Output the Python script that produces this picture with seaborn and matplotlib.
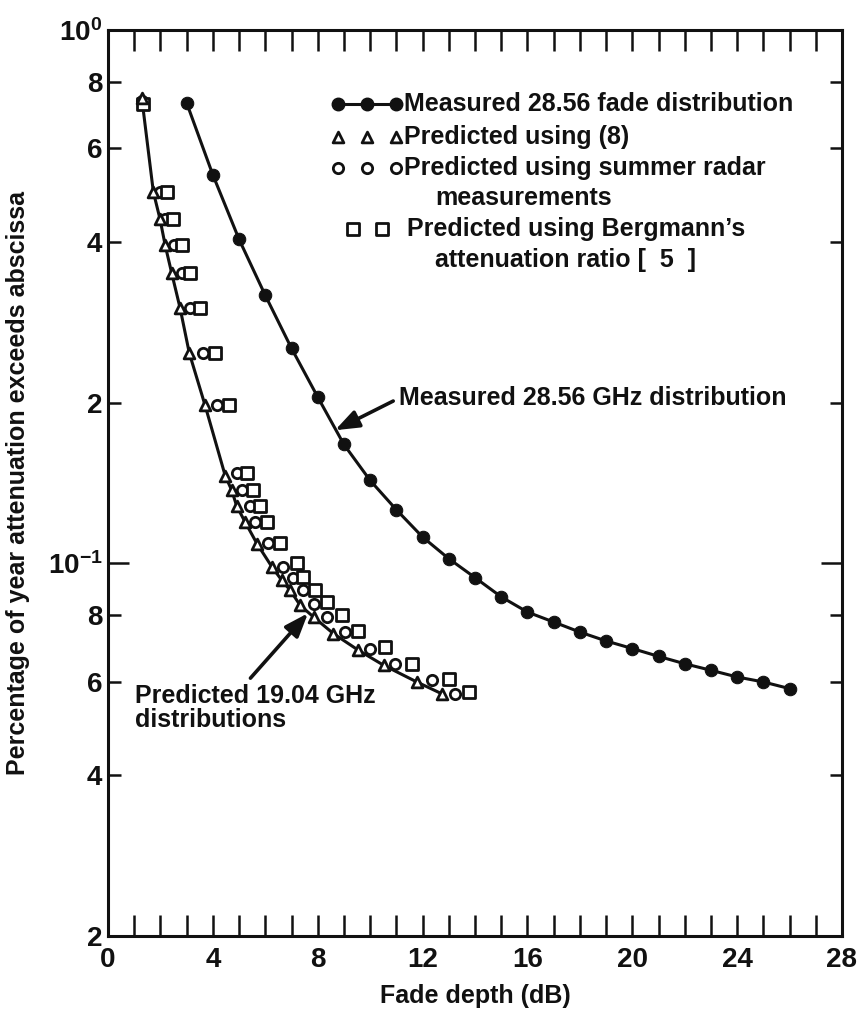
import matplotlib
matplotlib.use("Agg")
import matplotlib.pyplot as plt
import seaborn as sns
import pandas as pd

# Measured 28.56 GHz fade distribution (dB, % of year)
meas_db = [3, 4, 5, 6, 7, 8, 9, 10, 11, 12, 13, 14, 15, 16, 17, 18, 19, 20,
           21, 22, 23, 24, 25, 26]
meas_pct = [0.73, 0.535, 0.405, 0.318, 0.253, 0.205, 0.167, 0.143, 0.126,
            0.112, 0.102, 0.094, 0.0865, 0.081, 0.0776, 0.0743, 0.0715,
            0.0692, 0.0669, 0.0648, 0.063, 0.0612, 0.0599, 0.0582]

# Predicted 19.04 GHz distributions
eq8_db = [1.29, 1.73, 1.98, 2.18, 2.43, 2.75, 3.10, 3.70, 4.47, 4.72, 4.91,
          5.23, 5.68, 6.25, 6.63, 6.95, 7.33, 7.84, 8.60, 9.55, 10.51, 11.78,
          12.74]
eq8_pct = [0.745, 0.497, 0.443, 0.395, 0.350, 0.301, 0.248, 0.198, 0.146,
           0.137, 0.128, 0.1195, 0.1089, 0.0985, 0.0929, 0.089, 0.0834,
           0.0793, 0.0738, 0.0687, 0.0644, 0.0599, 0.0569]

radar_db = [1.30, 1.98, 2.18, 2.52, 2.82, 3.13, 3.63, 4.15, 4.91, 5.10, 5.42,
            5.61, 6.12, 6.69, 7.07, 7.45, 7.84, 8.35, 9.05, 10.0, 10.95,
            12.35, 13.24]
radar_pct = [0.735, 0.497, 0.443, 0.395, 0.350, 0.301, 0.248, 0.198, 0.1475,
             0.1375, 0.128, 0.1195, 0.109, 0.0985, 0.0937, 0.089, 0.084,
             0.0793, 0.0743, 0.0692, 0.0648, 0.0603, 0.0569]

berg_db = [1.33, 2.25, 2.48, 2.82, 3.13, 3.51, 4.08, 4.63, 5.29, 5.55, 5.80,
           6.06, 6.56, 7.20, 7.45, 7.90, 8.35, 8.92, 9.55, 10.57, 11.59,
           12.99, 13.79]
berg_pct = [0.725, 0.497, 0.443, 0.395, 0.350, 0.301, 0.248, 0.198, 0.1475,
            0.1375, 0.128, 0.1195, 0.109, 0.1002, 0.0941, 0.089, 0.0846,
            0.0799, 0.0748, 0.0697, 0.0648, 0.0608, 0.0573]

x_major = [0, 4, 8, 12, 16, 20, 24, 28]
x_minor = list(range(0, 29))
y_minor_vals = [0.02, 0.04, 0.06, 0.08, 0.2, 0.4, 0.6, 0.8, 1.0]
y_minor_labels = ["2", "4", "6", "8", "2", "4", "6", "8",
                  r"$\mathregular{10^{0}}$"]
y_major_vals = [0.1]
y_major_labels = [r"$\mathregular{10^{-1}}$"]

legend_labels = ["Measured 28.56 fade distribution",
                 "Predicted using (8)",
                 "Predicted using summer radar",
                 "measurements",
                 "Predicted using Bergmann\u2019s",
                 "attenuation ratio [  5  ]"]

sns.set_theme(style="ticks")
plt.rcParams["font.family"] = ["Liberation Sans", "DejaVu Sans"]
plt.rcParams["font.weight"] = "bold"
plt.rcParams["axes.labelweight"] = "bold"

INK = "#111111"
FS = 18
TICK_FS = 20

fig = plt.figure(figsize=(8.59, 10.10), dpi=100)
ax = fig.add_axes([108 / 859, 1 - 936 / 1010, 734 / 859, 906 / 1010])

meas = pd.DataFrame({"db": meas_db, "pct": meas_pct})
eq8 = pd.DataFrame({"db": eq8_db, "pct": eq8_pct})
radar = pd.DataFrame({"db": radar_db, "pct": radar_pct})
berg = pd.DataFrame({"db": berg_db, "pct": berg_pct})

# 28.56 GHz measured curve
sns.lineplot(data=meas, x="db", y="pct", ax=ax, color=INK, linewidth=2.2,
             marker="o", markersize=9, markeredgecolor=INK,
             markerfacecolor=INK, zorder=3)

# 19.04 GHz curve through the (8) predictions
sns.lineplot(data=eq8, x="db", y="pct", ax=ax, color=INK, linewidth=2.2,
             zorder=2)
sns.scatterplot(data=radar, x="db", y="pct", ax=ax, marker="o", s=55,
                facecolor="white", edgecolor=INK, linewidth=2.0, zorder=4)
sns.scatterplot(data=berg, x="db", y="pct", ax=ax, marker="s", s=65,
                facecolor="white", edgecolor=INK, linewidth=2.0, zorder=4)
sns.scatterplot(data=eq8, x="db", y="pct", ax=ax, marker="^", s=60,
                facecolor="white", edgecolor=INK, linewidth=2.0, zorder=5)

ax.set_yscale("log")
ax.set_xlim(0, 28)
ax.set_ylim(0.02, 1.0)

ax.set_xticks(x_major)
ax.set_xticks(x_minor, minor=True)
ax.set_xticklabels([str(v) for v in x_major])
ax.set_yticks(y_major_vals, y_major_labels)
ax.set_yticks(y_minor_vals, y_minor_labels, minor=True)

ax.tick_params(axis="x", which="both", direction="in", top=True,
               bottom=True, length=15, width=1.8, color=INK,
               labelsize=TICK_FS, pad=8, labelcolor=INK)
ax.tick_params(axis="y", which="minor", direction="in", left=True,
               right=True, length=9, width=1.8, color=INK,
               labelsize=TICK_FS, pad=4, labelcolor=INK)
ax.tick_params(axis="y", which="major", direction="in", left=True,
               right=True, length=15, width=1.8, color=INK,
               labelsize=TICK_FS, pad=4, labelcolor=INK)

for sp in ax.spines.values():
    sp.set_linewidth(2.2)
    sp.set_color(INK)
    sp.set_visible(True)

ax.set_xlabel("Fade depth (dB)", fontsize=FS, fontweight="bold", color=INK,
              labelpad=8)
ax.set_ylabel("Percentage of year attenuation exceeds abscissa", fontsize=FS,
              fontweight="bold", color=INK)
ax.yaxis.set_label_coords(-0.106, 0.5)

# Legend drawn in axes fraction
tr = ax.transAxes
def fx(px):
    return (px - 108) / 734
def fy(py):
    return (936 - py) / 906

leg_x3 = [fx(338), fx(367), fx(396)]
ax.plot(leg_x3, [fy(104)] * 3, transform=tr, color=INK, linewidth=2.2,
        marker="o", markersize=9, clip_on=False)
ax.scatter(leg_x3, [fy(137)] * 3, transform=tr, marker="^", s=60,
           facecolor="white", edgecolor=INK, linewidth=2.0, clip_on=False)
ax.scatter(leg_x3, [fy(168)] * 3, transform=tr, marker="o", s=55,
           facecolor="white", edgecolor=INK, linewidth=2.0, clip_on=False)
ax.scatter([fx(353), fx(382)], [fy(229)] * 2, transform=tr, marker="s",
           s=65, facecolor="white", edgecolor=INK, linewidth=2.0,
           clip_on=False)

leg_pos = [(404, 104), (404, 137), (404, 168), (435, 198), (407, 229),
           (435, 260)]
for (px, py), txt in zip(leg_pos, legend_labels):
    ax.text(fx(px), fy(py), txt, transform=tr, fontsize=FS,
            fontweight="bold", color=INK, ha="left", va="center")

# Curve annotations
arrow1 = dict(arrowstyle="-|>,head_length=0.8,head_width=0.3", color=INK,
              linewidth=2.6, shrinkA=2, shrinkB=0, relpos=(0.0, 0.5))
arrow2 = dict(arrowstyle="-|>,head_length=0.8,head_width=0.3", color=INK,
              linewidth=2.6, shrinkA=2, shrinkB=0, relpos=(0.46, 1.0))
ax.annotate("Measured 28.56 GHz distribution", xy=(8.66, 0.1776),
            xytext=(11.1, 0.204), fontsize=FS, fontweight="bold", color=INK,
            ha="left", va="center", arrowprops=arrow1)
ax.annotate("Predicted 19.04 GHz\ndistributions", xy=(7.63, 0.0806),
            xytext=(1.03, 0.0595), fontsize=FS, fontweight="bold", color=INK,
            ha="left", va="top", linespacing=1.05, arrowprops=arrow2)

fig.savefig("out.png", dpi=100, facecolor="white")
